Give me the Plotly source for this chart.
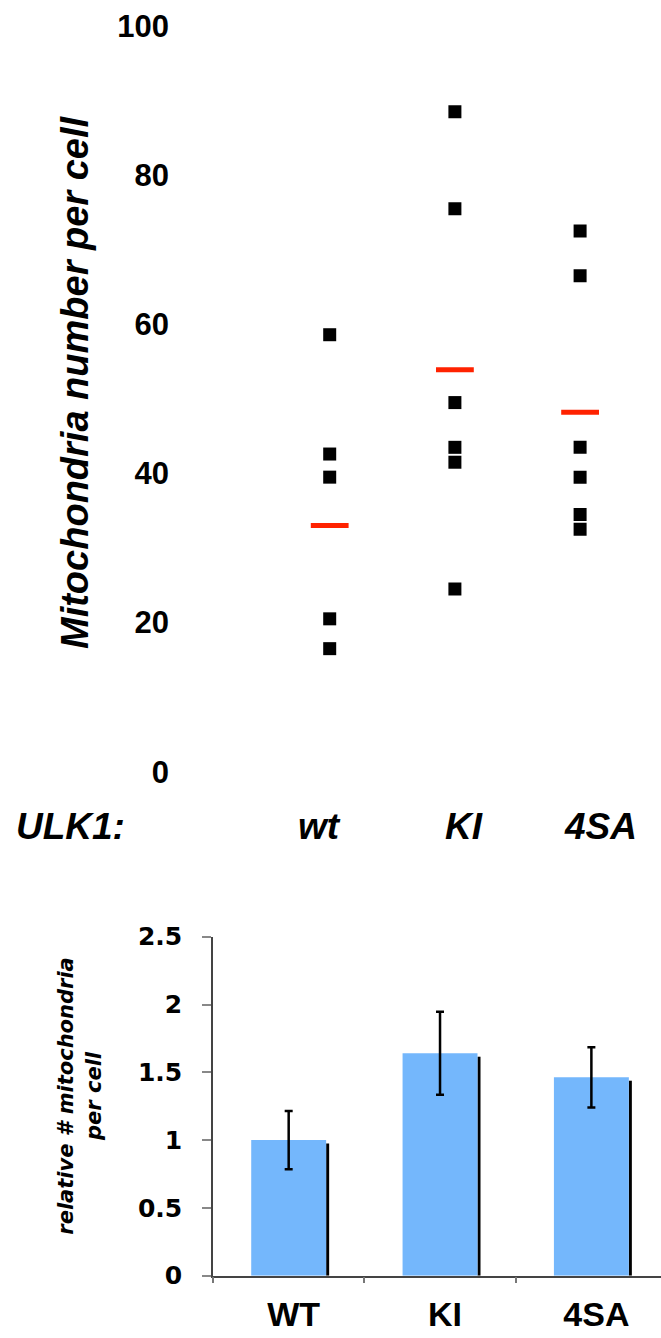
import plotly.graph_objects as go

# ---------------- data ----------------
# top panel: individual cells
groups = ["wt", "KI", "4SA"]
wt_vals = [58.6, 42.6, 39.5, 20.5, 16.5]
ki_vals = [88.5, 75.5, 49.5, 43.5, 41.5, 24.5]
sa_vals = [72.5, 66.5, 43.5, 39.5, 34.5, 32.5]
group_means = [33.0, 53.9, 48.2]
top_ticks = [0, 20, 40, 60, 80, 100]

# bottom panel: relative mitochondria number
bar_cats = ["WT", "KI", "4SA"]
bar_vals = [1.0, 1.64, 1.463]
bar_err = [0.215, 0.306, 0.222]
bot_ticks = [0, 0.5, 1, 1.5, 2, 2.5]
bot_tick_text = ["0", "0.5", "1", "1.5", "2", "2.5"]

W, H = 661, 1338
def px(x):
    return x / W
def py(y):
    return 1 - y / H

ARIAL = "Liberation Sans, Arial, sans-serif"
VERD = "DejaVu Sans, Verdana, sans-serif"

fig = go.Figure()

# top scatter
xs = [groups[0]] * len(wt_vals) + [groups[1]] * len(ki_vals) + [groups[2]] * len(sa_vals)
ys = wt_vals + ki_vals + sa_vals
fig.add_trace(go.Scatter(
    x=xs, y=ys, mode="markers",
    marker=dict(symbol="square", size=13, color="black"),
    xaxis="x", yaxis="y", showlegend=False,
))
fig.add_trace(go.Scatter(
    x=groups, y=group_means, mode="markers",
    marker=dict(symbol="line-ew", size=27, line=dict(width=5, color="#ff2200")),
    xaxis="x", yaxis="y", showlegend=False,
))

# bottom bars
shadow_drop = 0.025
fig.add_trace(go.Bar(
    x=bar_cats, y=[v - shadow_drop for v in bar_vals],
    width=0.02, offset=0.2475, marker=dict(color="black", line=dict(width=0)),
    xaxis="x2", yaxis="y2", showlegend=False,
))
fig.add_trace(go.Bar(
    x=bar_cats, y=bar_vals, width=0.495,
    marker=dict(color="#74b7fc", line=dict(width=0)),
    error_y=dict(type="data", array=bar_err, color="black", thickness=2.5, width=4),
    xaxis="x2", yaxis="y2", showlegend=False,
))

fig.update_layout(
    width=W, height=H,
    margin=dict(l=0, r=0, t=0, b=0, pad=0, autoexpand=False),
    paper_bgcolor="white", plot_bgcolor="white",
    barmode="overlay",
    xaxis=dict(
        domain=[px(175), px(642.7)], range=[-1.2356, 2.5],
        type="category", categoryarray=groups,
        showgrid=False, zeroline=False, showline=False, showticklabels=False, ticks="",
        anchor="y",
    ),
    yaxis=dict(
        domain=[py(771.7), py(26)], range=[0, 100],
        tickvals=top_ticks, showgrid=False, zeroline=False, showline=False, ticks="",
        tickfont=dict(family=ARIAL, size=31, color="black", weight="bold"),
        ticklabelstandoff=5,
        anchor="x",
    ),
    xaxis2=dict(
        domain=[px(213), 1.0], range=[-0.5, 2.46],
        type="category", categoryarray=bar_cats,
        showgrid=False, zeroline=False, showline=True, linecolor="#444", linewidth=1.5,
        ticks="outside", tickson="boundaries", ticklen=6, tickcolor="#777", tickwidth=1.5,
        tickfont=dict(family=ARIAL, size=34, color="black", weight="bold"),
        ticklabelshift=5, ticklabelstandoff=8,
        anchor="y2",
    ),
    yaxis2=dict(
        domain=[py(1275.7), py(936.7)], range=[0, 2.5],
        tickvals=bot_ticks, ticktext=bot_tick_text,
        showgrid=False, zeroline=False, showline=True, linecolor="#444", linewidth=1.5,
        ticks="outside", ticklen=9, tickcolor="#888", tickwidth=1.5,
        tickfont=dict(family=VERD, size=25, color="black", weight="bold"),
        ticklabelstandoff=15,
        anchor="x2",
    ),
)

annots = []
annots.append(dict(
    text="Mitochondria number per cell", textangle=-90,
    xref="paper", yref="paper", x=px(75), y=py(382), xanchor="center", yanchor="middle",
    showarrow=False, font=dict(family=ARIAL, size=38, color="black", weight="bold", style="italic"),
))
annots.append(dict(
    text="ULK1:", xref="paper", yref="paper", x=px(14), y=py(826),
    xanchor="left", yanchor="middle", showarrow=False,
    font=dict(family=ARIAL, size=37, color="black", weight="bold", style="italic"),
))
label_shift = [-10, 9, 20]
for g, s in zip(groups, label_shift):
    annots.append(dict(
        text=g, xref="x", yref="paper", x=g, y=py(826), xshift=s,
        xanchor="center", yanchor="middle", showarrow=False,
        font=dict(family=ARIAL, size=37, color="black", weight="bold", style="italic"),
    ))
annots.append(dict(
    text="relative # mitochondria<br>per cell", textangle=-90,
    xref="paper", yref="paper", x=px(80), y=py(1096.7), xanchor="center", yanchor="middle",
    showarrow=False, font=dict(family=VERD, size=21, color="black", weight="bold", style="italic"),
))
fig.update_layout(annotations=annots)

fig.write_html(
    "out.html",
    config={"displayModeBar": False},
    post_script="document.body.style.margin='0';document.body.style.padding='0';",
)
